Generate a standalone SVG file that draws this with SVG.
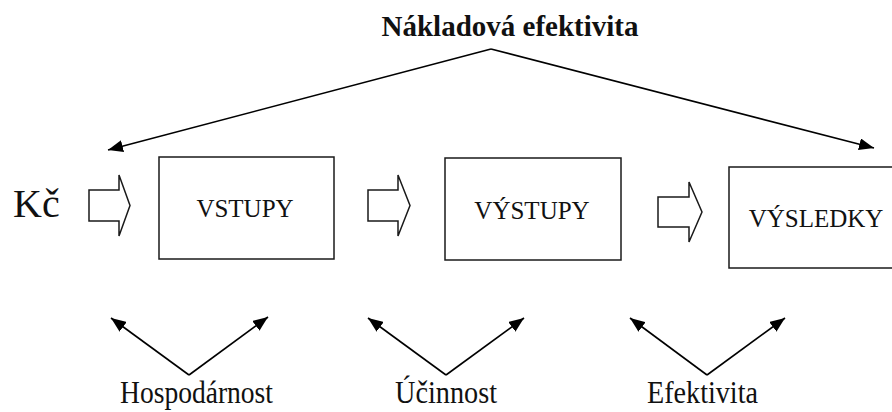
<svg xmlns="http://www.w3.org/2000/svg" width="892" height="412" viewBox="0 0 892 412">
  <defs>
    <marker id="ah" markerUnits="userSpaceOnUse" markerWidth="16" markerHeight="12" refX="15" refY="6" orient="auto">
      <path d="M0,0 L15,6 L0,12 Z" fill="#000"/>
    </marker>
    <style>
      .box { fill: #fff; stroke: #1a1a1a; stroke-width: 1.5; }
      .hollow { fill: #fff; stroke: #1a1a1a; stroke-width: 1.5; stroke-linejoin: miter; }
      .conn { fill: none; stroke: #000; stroke-width: 1.6; marker-end: url(#ah); }
      .lbl { font-family: "Liberation Serif", "Times New Roman", serif; fill: #111; }
      .boxtxt { font-size: 25px; text-anchor: middle; }
      .bottom { font-size: 31px; text-anchor: middle; }
    </style>
  </defs>
  <rect width="892" height="412" fill="#fff"/>

  <g id="title">
    <text class="lbl" x="510" y="36" font-size="29" font-weight="bold" text-anchor="middle" textLength="257" lengthAdjust="spacingAndGlyphs">Nákladová efektivita</text>
  </g>

  <g id="kc">
    <text x="13" y="217" font-family="'Liberation Serif', 'Times New Roman', serif" font-size="40" fill="#111">Kč</text>
  </g>

  <g id="vstupy">
    <rect class="box" x="159" y="157" width="175" height="102"/>
    <text class="lbl boxtxt" x="245" y="217">VSTUPY</text>
  </g>

  <g id="vystupy">
    <rect class="box" x="445" y="158" width="176" height="102"/>
    <text class="lbl boxtxt" x="532" y="219">VÝSTUPY</text>
  </g>

  <g id="vysledky">
    <rect class="box" x="729" y="167" width="170" height="101"/>
    <text class="lbl boxtxt" x="816" y="227">VÝSLEDKY</text>
  </g>

  <g id="hollow-arrows">
    <path class="hollow" d="M89,190 L119,190 L119,175 L130,205.5 L119,236 L119,221 L89,221 Z"/>
    <path class="hollow" d="M368,190 L398,190 L398,175 L410,205.5 L398,236 L398,221 L368,221 Z"/>
    <path class="hollow" d="M658,197 L689,197 L689,182 L702,212 L689,242 L689,227 L658,227 Z"/>
  </g>

  <g id="connectors">
    <line class="conn" x1="491" y1="49" x2="108" y2="150"/>
    <line class="conn" x1="491" y1="49" x2="874" y2="148"/>
    <line class="conn" x1="189" y1="375" x2="111" y2="318"/>
    <line class="conn" x1="189" y1="375" x2="268" y2="317"/>
    <line class="conn" x1="446" y1="375" x2="368" y2="318"/>
    <line class="conn" x1="446" y1="375" x2="524" y2="318"/>
    <line class="conn" x1="707" y1="375" x2="630" y2="318"/>
    <line class="conn" x1="707" y1="375" x2="785" y2="318"/>
  </g>

  <g id="hospodarnost">
    <text class="lbl bottom" x="196.5" y="403" textLength="153" lengthAdjust="spacingAndGlyphs">Hospodárnost</text>
  </g>
  <g id="ucinnost">
    <text class="lbl bottom" x="446" y="403" textLength="102" lengthAdjust="spacingAndGlyphs">Účinnost</text>
  </g>
  <g id="efektivita">
    <text class="lbl bottom" x="702.5" y="403" textLength="111" lengthAdjust="spacingAndGlyphs">Efektivita</text>
  </g>
</svg>
